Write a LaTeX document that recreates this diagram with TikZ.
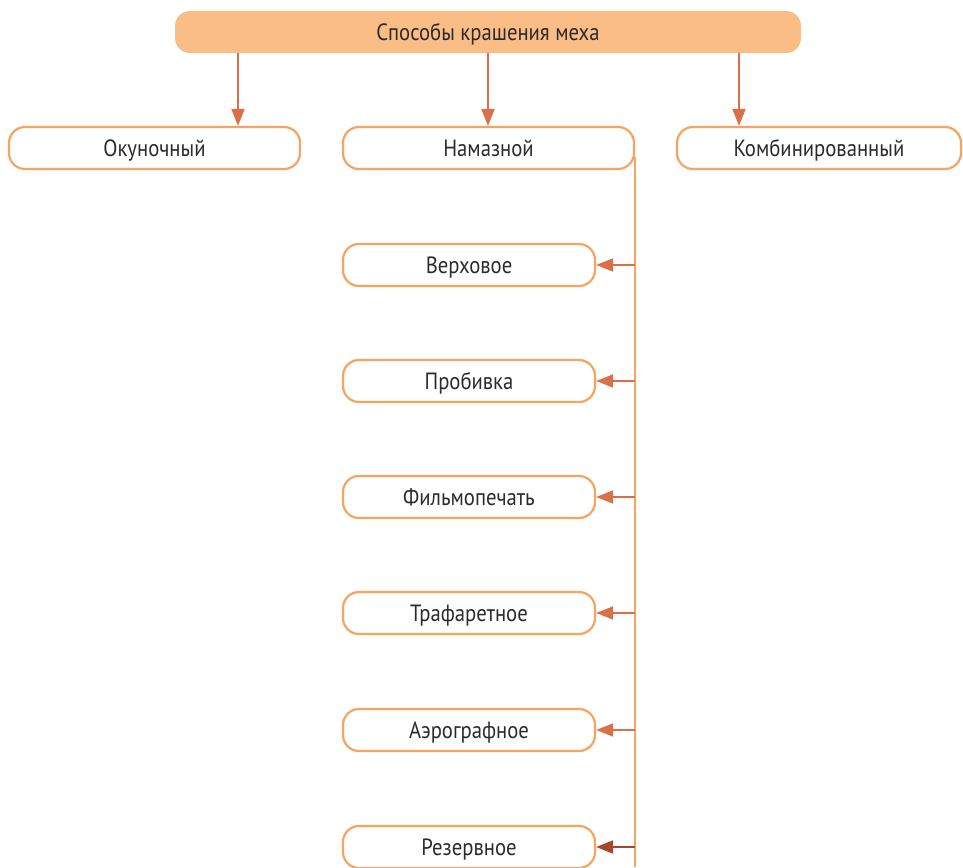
\documentclass[tikz,border=0pt]{standalone}
\usepackage{fontspec}
\setmainfont{PT Sans}[FakeStretch=0.88]
\usetikzlibrary{arrows.meta,calc}
\definecolor{topfill}{HTML}{FABD86}
\definecolor{boxline}{HTML}{F7A461}
\definecolor{arr}{HTML}{D9704A}
\definecolor{arrdark}{HTML}{A8452D}
\definecolor{txt}{HTML}{2B2B2B}
\begin{document}
\begin{tikzpicture}[x=1pt,y=-1pt,
  box/.style={draw=boxline, line width=2.2pt, rounded corners=16pt, fill=white,
    minimum height=42pt, inner sep=0pt, text height=19pt, text depth=2pt,
    text=txt, font=\fontsize{23.5}{26}\selectfont},
  topbox/.style={fill=topfill, rounded corners=15pt, minimum height=42pt,
    minimum width=626pt, inner sep=0pt, text height=19pt, text depth=2pt,
    text=txt, font=\fontsize{23.5}{26}\selectfont},
  arrow/.style={draw=arr, line width=2pt, -{Triangle[length=17pt,width=13pt]}},
  spine/.style={draw=boxline, line width=2pt}]
\useasboundingbox (0,0) rectangle (963,867);
\node[topbox] (top) at (488,32) {Способы крашения меха};
\node[box, minimum width=291pt] (okun) at (154.5,148) {Окуночный};
\node[box, minimum width=291pt] (nam) at (488.5,148) {Намазной};
\node[box, minimum width=284pt] (komb) at (819,148) {Комбинированный};
\foreach \n/\t/\y in {c1/Верховое/265, c2/Пробивка/381, c3/Фильмопечать/497,
  c4/Трафаретное/613, c5/Аэрографное/730, c6/Резервное/847}
  \node[box, minimum width=252pt] (\n) at (469,\y) {\t};
\coordinate (a1) at (238,53);
\coordinate (a2) at (488,53);
\coordinate (a3) at (739,53);
\draw[arrow] (a1) -- (a1 |- okun.north);
\draw[arrow] (a2) -- (a2 |- nam.north);
\draw[arrow] (a3) -- (a3 |- komb.north);
\coordinate (vtop) at ($(nam.east)+(0,9)$);
\coordinate (vbot) at (vtop |- 0,867);
\draw[spine] (vtop) -- (vbot);
\foreach \n in {c1,c2,c3,c4,c5}
  \draw[arrow] (vtop |- \n.east) -- (\n.east);
\draw[arrow, draw=arrdark] (vtop |- c6.east) -- (c6.east);
\end{tikzpicture}
\end{document}
